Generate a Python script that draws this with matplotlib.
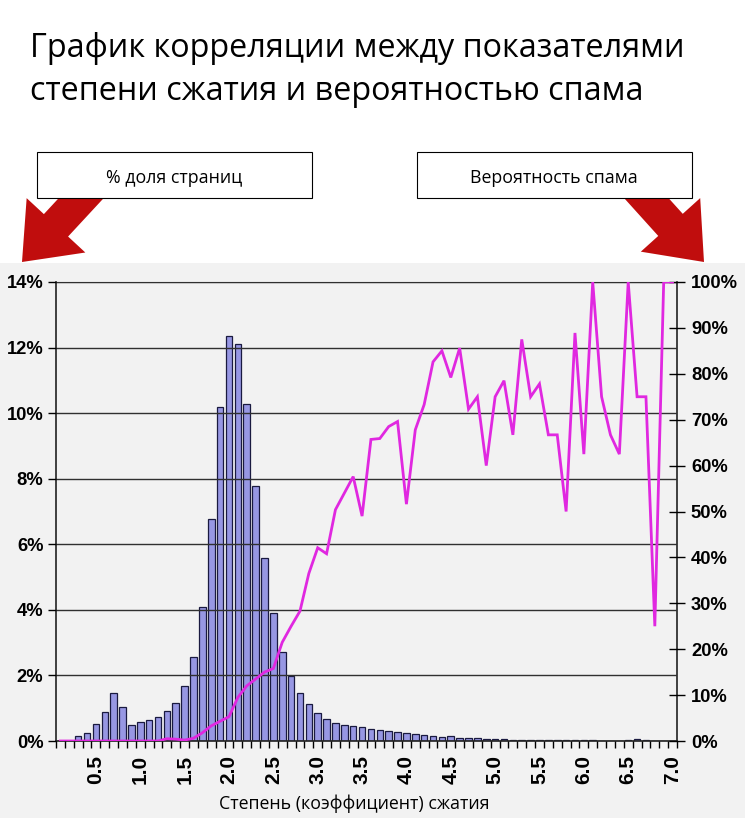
import matplotlib

matplotlib.use("Agg")
import matplotlib.pyplot as plt
import matplotlib.transforms as mtransforms
import numpy as np
from matplotlib.patches import FancyArrow, Rectangle

# степень сжатия: 0.1 ... 7.0, шаг 0.1
ratios = np.round(np.arange(1, 71) * 0.1, 1)

# % доля страниц в каждом интервале
page_share = [
    0.0, 0.0, 0.15, 0.25, 0.53, 0.87, 1.45, 1.03, 0.49, 0.58,
    0.63, 0.74, 0.92, 1.17, 1.69, 2.56, 4.10, 6.78, 10.20, 12.36,
    12.12, 10.28, 7.79, 5.57, 3.90, 2.72, 1.98, 1.47, 1.14, 0.85,
    0.68, 0.56, 0.50, 0.46, 0.43, 0.38, 0.33, 0.31, 0.27, 0.24,
    0.21, 0.17, 0.15, 0.12, 0.14, 0.10, 0.08, 0.08, 0.06, 0.05,
    0.05, 0.04, 0.04, 0.03, 0.03, 0.03, 0.02, 0.02, 0.02, 0.02,
    0.02, 0.01, 0.01, 0.01, 0.02, 0.05, 0.02, 0.01, 0.01, 0.01,
]

# вероятность спама, %
spam_prob = [
    0, 0, 0, 0, 0, 0, 0, 0, 0, 0,
    0, 0, 0.5, 0.4, 0.2, 0.6, 1.8, 3.3, 4.3, 5.3,
    9.5, 12.0, 13.5, 15.0, 15.8, 21.5, 25.0, 28.3, 36.5, 42.1,
    40.8, 50.4, 54.0, 57.6, 49.0, 65.7, 65.9, 68.5, 69.6, 51.6,
    67.8, 73.3, 82.6, 85.0, 79.2, 85.6, 72.3, 75.0, 60.0, 75.0,
    78.5, 66.7, 87.5, 75.0, 77.8, 66.7, 66.7, 50.0, 88.9, 62.5,
    100.0, 75.0, 66.7, 62.5, 100.0, 75.0, 75.0, 25.0, 100.0, 100.0,
]

left_ticks = [0, 2, 4, 6, 8, 10, 12, 14]
right_ticks = [0, 10, 20, 30, 40, 50, 60, 70, 80, 90, 100]
label_step = 5

W, H = 745, 818
BG = "#f2f2f2"
fig = plt.figure(figsize=(W / 100, H / 100), dpi=100)
px = mtransforms.Affine2D().scale(1 / W, -1 / H).translate(0, 1) + fig.transFigure

fig.patches.append(Rectangle((0, 263), W, H - 263, transform=px,
                             facecolor=BG, edgecolor="none", zorder=-10))

fig.text(30, 70, "График корреляции между показателями\nстепени сжатия и вероятностью спама",
         transform=px, ha="left", va="center", fontsize=23.3, family="Open Sans",
         linespacing=1.4)

# стрелки и подписи осей
red = "#c00d0d"
for x0, x1 in [(98, 22), (630, 704)]:
    fig.patches.append(FancyArrow(x0, 180, x1 - x0, 262 - 180, width=33,
                                  head_width=80, head_length=50,
                                  length_includes_head=True, transform=px,
                                  facecolor=red, edgecolor="none", zorder=1))
for bx, txt in [(37, "% доля страниц"), (417, "Вероятность спама")]:
    fig.patches.append(Rectangle((bx, 152), 275, 46, transform=px, facecolor="white",
                                 edgecolor="black", lw=0.8, zorder=2))
    fig.text(bx + 137, 178, txt, transform=px, ha="center", va="center",
             fontsize=12.8, family="Open Sans", zorder=3)

ax = fig.add_axes([56 / W, 77 / H, 621 / W, 459 / H])
ax.set_facecolor(BG)
x = np.arange(len(ratios))
ax.bar(x, page_share, width=0.74, color="#9797e3", edgecolor="#1a1a40",
       linewidth=0.9, zorder=2)
ax.set_xlim(-0.5, len(ratios) - 0.5)
ax.set_ylim(0, 14)
ax.set_yticks(left_ticks)
ax.set_yticklabels([f"{t}%" for t in left_ticks])
ax.grid(axis="y", color="#303030", lw=1.0, zorder=3)
ax.set_axisbelow(False)

lab_idx = [i for i in x if (i + 1) % label_step == 0]
ax.set_xticks(lab_idx)
ax.set_xticklabels([f"{ratios[i]:.1f}" for i in lab_idx], rotation=90)
ax.set_xticks(np.arange(len(ratios) + 1) - 0.5, minor=True)
ax.tick_params(axis="x", which="major", length=0, pad=10)
ax.tick_params(axis="x", which="minor", length=5, width=1, direction="out")
ax.tick_params(axis="y", length=6, width=1, direction="out", pad=3)
for lab in ax.get_xticklabels():
    lab.set_fontweight("bold")
    lab.set_fontsize(15)
    lab.set_family("Liberation Sans")
for lab in ax.get_yticklabels():
    lab.set_fontweight("bold")
    lab.set_fontsize(13.2)
    lab.set_family("Liberation Sans")
ax.set_xlabel("Степень (коэффициент) сжатия", family="Open Sans", fontsize=12.8)
ax.xaxis.set_label_coords(0.48, -0.117)
for s in ["left", "right", "bottom"]:
    ax.spines[s].set_color("#222222")
    ax.spines[s].set_linewidth(1.2)
ax.spines["top"].set_color("#303030")

ax2 = ax.twinx()
ax2.plot(x, spam_prob, color="#e028e0", lw=2.0, solid_joinstyle="miter", zorder=4)
ax2.set_ylim(0, 100)
ax2.set_yticks(right_ticks)
ax2.set_yticklabels([f"{t}%" for t in right_ticks])
ax2.tick_params(axis="y", length=12, width=1, direction="inout", pad=4)
for lab in ax2.get_yticklabels():
    lab.set_fontweight("bold")
    lab.set_fontsize(13.2)
    lab.set_family("Liberation Sans")
for s in ax2.spines.values():
    s.set_visible(False)

fig.savefig("out.png", dpi=100, facecolor="white")
